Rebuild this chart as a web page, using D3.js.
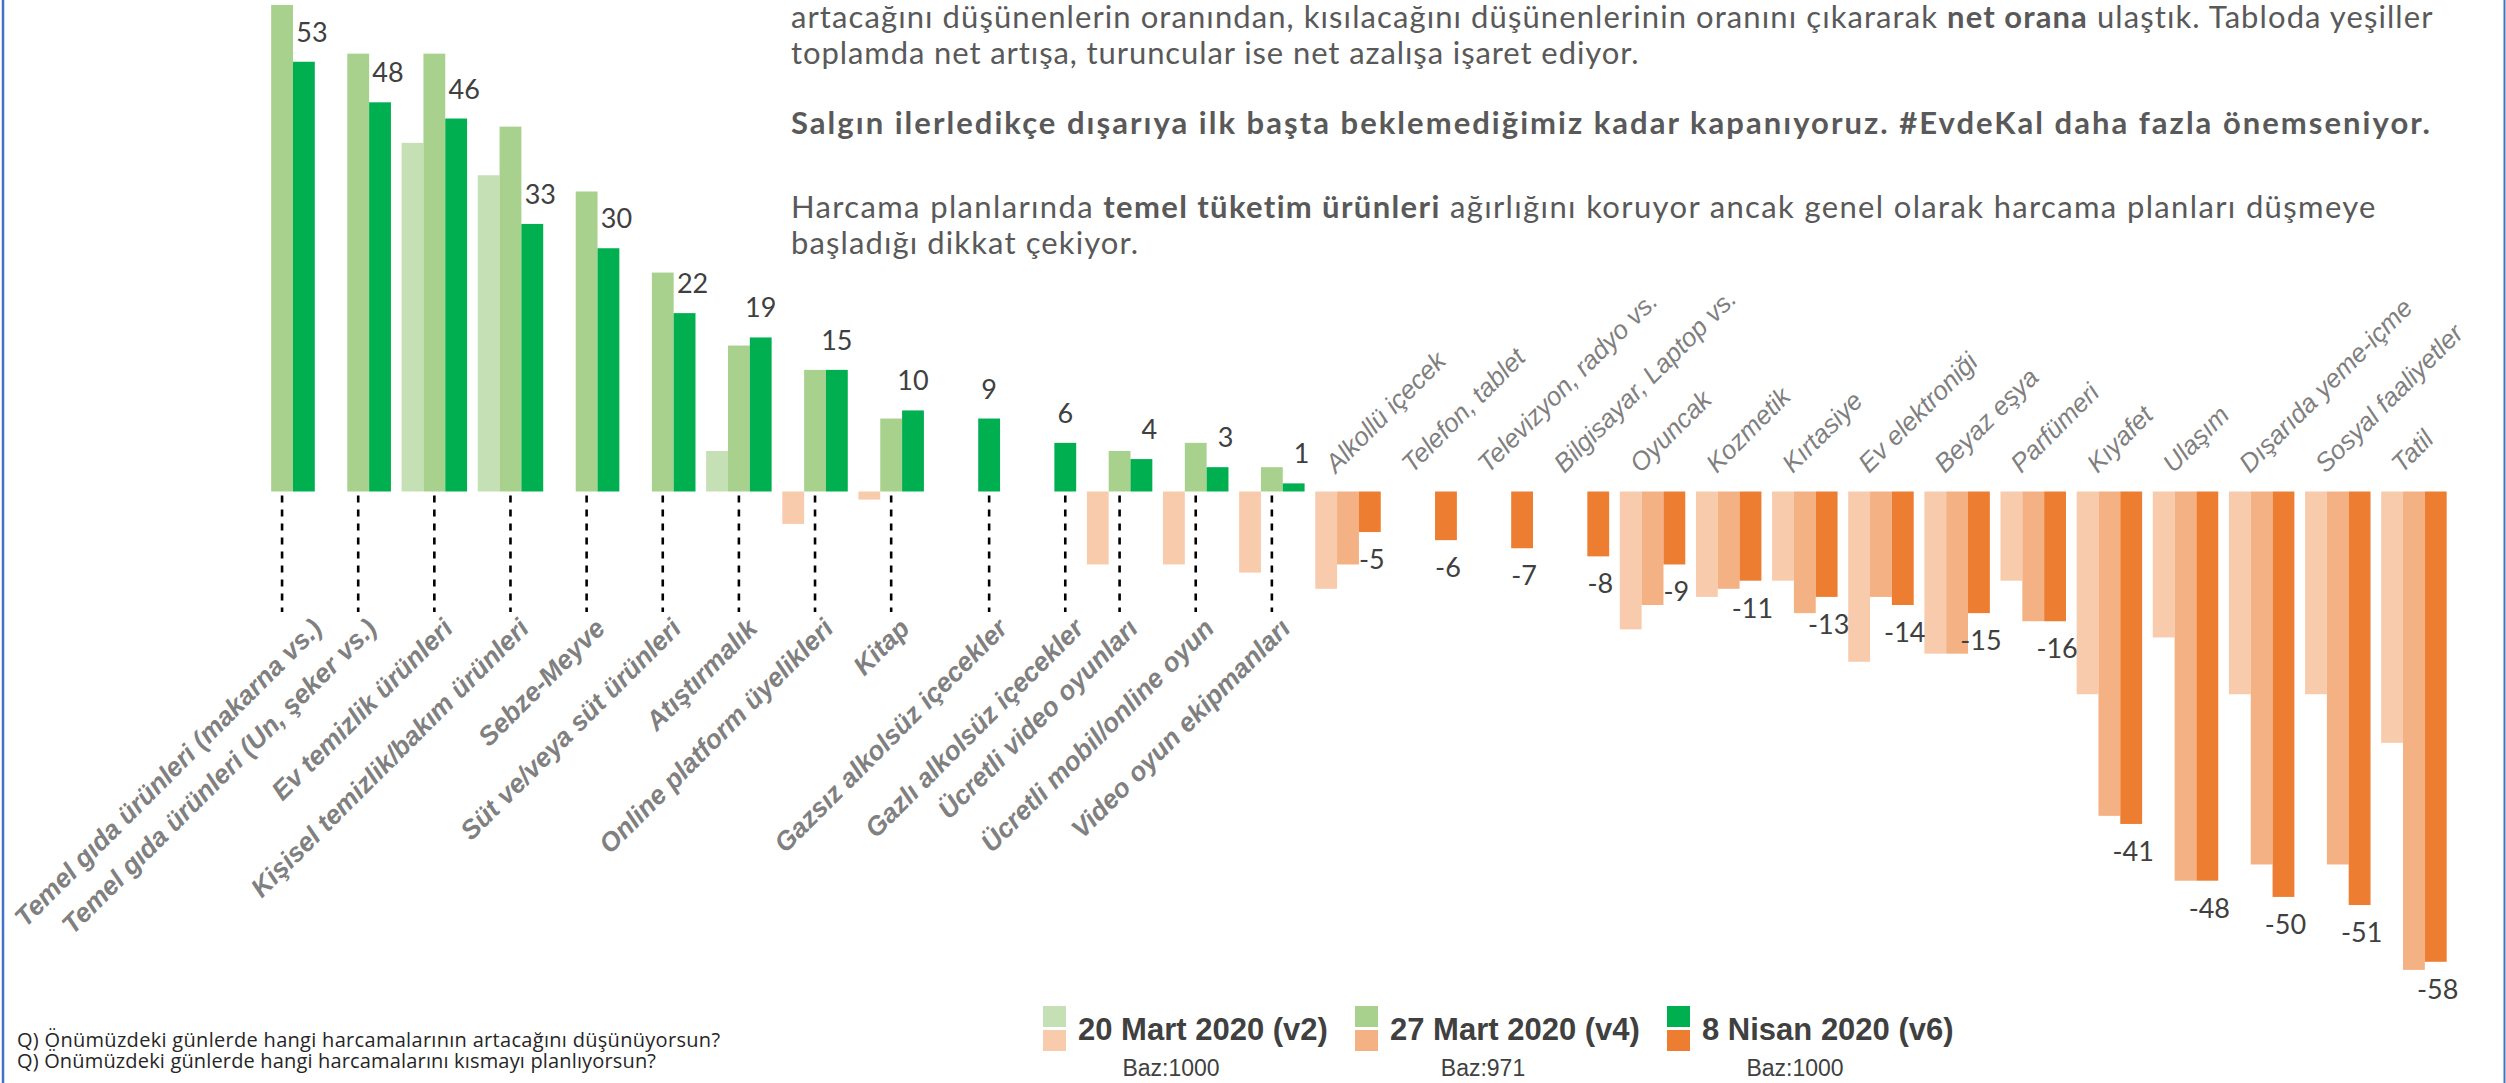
<!DOCTYPE html>
<html><head><meta charset="utf-8">
<script src="https://cdn.jsdelivr.net/npm/d3@7"></script>
<style>html,body{margin:0;padding:0;background:#fff;overflow:hidden}</style>
</head><body>
<svg id="chart" width="2506" height="1083" xmlns="http://www.w3.org/2000/svg"></svg>
<script>
// ---------- DATA ----------
const categories = [
  "Temel gıda ürünleri (makarna vs.)", "Temel gıda ürünleri (Un, şeker vs.)", "Ev temizlik ürünleri",
  "Kişisel temizlik/bakım ürünleri", "Sebze-Meyve", "Süt ve/veya süt ürünleri", "Atıştırmalık",
  "Online platform üyelikleri", "Kitap", "Gazsız alkolsüz içecekler", "Gazlı alkolsüz içecekler",
  "Ücretli video oyunları", "Ücretli mobil/online oyun", "Video oyun ekipmanları",
  "Alkollü içecek", "Telefon, tablet", "Televizyon, radyo vs.", "Bilgisayar, Laptop vs.",
  "Oyuncak", "Kozmetik", "Kırtasiye", "Ev elektroniği", "Beyaz eşya", "Parfümeri",
  "Kıyafet", "Ulaşım", "Dışarıda yeme-içme", "Sosyal faaliyetler", "Tatil"
];
const v2 = [null, null, 43, 39, null, null, 5, -4, -1, null, null, -9, -9, -10,
            -12, null, null, null, -17, -13, -11, -21, -20, -11, -25, -18, -25, -25, -31];
const v4 = [60, 54, 54, 45, 37, 27, 18, 15, 9, null, null, 5, 6, 3,
            -9, null, null, null, -14, -12, -15, -13, -20, -16, -40, -48, -46, -46, -59];
const v6 = [53, 48, 46, 33, 30, 22, 19, 15, 10, 9, 6, 4, 3, 1,
            -5, -6, -7, -8, -9, -11, -13, -14, -15, -16, -41, -48, -50, -51, -58];
const seriesKeys = ["v2", "v4", "v6"];
const legendLabels = ["20 Mart 2020 (v2)", "27 Mart 2020 (v4)", "8 Nisan 2020 (v6)"];
const bazLabels = ["Baz:1000", "Baz:971", "Baz:1000"];
const paragraphLines = [
  [["artacağını düşünenlerin oranından, kısılacağını düşünenlerinin oranını çıkararak ", false], ["net orana", true], [" ulaştık. Tabloda yeşiller", false]],
  [["toplamda net artışa, turuncular ise net azalışa işaret ediyor.", false]],
  [["Salgın ilerledikçe dışarıya ilk başta beklemediğimiz kadar kapanıyoruz. #EvdeKal daha fazla önemseniyor.", true]],
  [["Harcama planlarında ", false], ["temel tüketim ürünleri", true], [" ağırlığını koruyor ancak genel olarak harcama planları düşmeye", false]],
  [["başladığı dikkat çekiyor.", false]]
];
const questionLines = [
  "Q) Önümüzdeki günlerde hangi harcamalarının artacağını düşünüyorsun?",
  "Q) Önümüzdeki günlerde hangi harcamalarını kısmayı planlıyorsun?"
];

// ---------- LAYOUT ----------
const svg = d3.select("#chart");
const values = { v2, v4, v6 };
const posColor = { v2: "#c5e0b4", v4: "#a9d18e", v6: "#00b050" };
const negColor = { v2: "#f8cbad", v4: "#f4b183", v6: "#ed7d31" };

const x = d3.scaleBand().domain(categories).range([244, 2452]).paddingInner(0.14).paddingOuter(0.07);
const xs = d3.scaleBand().domain(seriesKeys).range([0, x.bandwidth()]);
const y = d3.scaleLinear().domain([-60, 60]).range([978, 5]);

function fit(sel, target) {
  const node = sel.node();
  const n = node.getNumberOfChars();
  const w = node.getComputedTextLength();
  sel.attr("letter-spacing", ((target - w) / Math.max(1, n - 1)).toFixed(3));
}

// frame lines (left / right)
svg.append("line").attr("x1", 3).attr("x2", 3).attr("y1", 0).attr("y2", 1083)
  .attr("stroke", "#4472c4").attr("stroke-width", 2.5);
svg.append("line").attr("x1", 2504.5).attr("x2", 2504.5).attr("y1", 0).attr("y2", 1083)
  .attr("stroke", "#4472c4").attr("stroke-width", 2);

// bars
const barData = [];
categories.forEach((c, i) => seriesKeys.forEach(k => {
  const v = values[k][i];
  if (v != null) barData.push({ c, k, v });
}));
svg.append("g").selectAll("rect").data(barData).join("rect")
  .attr("x", d => x(d.c) + xs(d.k))
  .attr("width", xs.bandwidth())
  .attr("y", d => y(Math.max(0, d.v)))
  .attr("height", d => Math.abs(y(d.v) - y(0)))
  .attr("fill", d => d.v >= 0 ? posColor[d.k] : negColor[d.k]);

const idx = categories.map((c, i) => i);
const posIdx = idx.filter(i => v6[i] > 0);
const negIdx = idx.filter(i => v6[i] < 0);
const tickX = i => x(categories[i]) + xs(v4[i] != null ? "v4" : "v6") + xs.bandwidth() / 2;
const v6X = i => x(categories[i]) + xs("v6") + xs.bandwidth() / 2;

// dashed leader lines
svg.append("g").selectAll("line").data(posIdx).join("line")
  .attr("x1", tickX).attr("x2", tickX)
  .attr("y1", y(0) + 4).attr("y2", 612)
  .attr("stroke", "#000").attr("stroke-width", 2.6).attr("stroke-dasharray", "7,7");

// bottom category labels (kept inside the left edge)
svg.append("g").selectAll("text").data(posIdx).join("text")
  .attr("text-anchor", "end")
  .attr("font-family", "'Liberation Sans', Arial, sans-serif")
  .attr("font-weight", "bold").attr("font-style", "italic")
  .attr("font-size", 26.5).attr("fill", "#808080")
  .text(i => categories[i])
  .each(function (i) {
    const len = this.getComputedTextLength();
    const bx = Math.max(tickX(i) + 20, 12 + 0.707 * (len + 19));
    d3.select(this).attr("transform", `translate(${bx},630) rotate(-45)`);
  });

// top category labels
svg.append("g").selectAll("text").data(negIdx).join("text")
  .attr("transform", i => `translate(${x(categories[i]) + x.bandwidth() / 2 - 12},474) rotate(-45)`)
  .attr("text-anchor", "start")
  .attr("font-family", "'Liberation Sans', Arial, sans-serif")
  .attr("font-style", "italic")
  .attr("font-size", 26).attr("fill", "#7f7f7f")
  .text(i => categories[i]);

// value labels
svg.append("g").selectAll("text").data(idx).join("text")
  .attr("x", i => v6X(i) + (v6[i] > 0 ? (v4[i] != null && v4[i] > v6[i] ? 8 : 0) : 2))
  .attr("y", i => v6[i] > 0 ? y(v6[i]) - 20 : y(v6[i]) + 37)
  .attr("text-anchor", "middle")
  .attr("font-family", "Lato, 'Open Sans', sans-serif")
  .attr("font-size", 27).attr("fill", "#404040")
  .text(i => v6[i]);

// paragraph
const paraBaselines = [28, 63.5, 134, 218, 253.5];
const paraEnds = [2433, 1639, 2430, 2376, 1138];
paragraphLines.forEach((parts, li) => {
  const t = svg.append("text").attr("x", 791).attr("y", paraBaselines[li])
    .attr("font-family", "Lato, 'Open Sans', sans-serif")
    .attr("font-size", 31).attr("fill", "#595959");
  parts.forEach(([s, b]) => t.append("tspan").attr("font-weight", b ? "bold" : "normal").text(s));
  fit(t, paraEnds[li] - 791);
});

// questions
const qBaselines = [1047, 1068];
const qEnds = [720, 656];
questionLines.forEach((q, i) => {
  const t = svg.append("text").attr("x", 17).attr("y", qBaselines[i])
    .attr("font-family", "'Open Sans', sans-serif")
    .attr("font-size", 20).attr("fill", "#262626").text(q);
  fit(t, qEnds[i] - 17);
});

// legend
const lg = svg.append("g").selectAll("g").data(seriesKeys).join("g")
  .attr("transform", (k, i) => `translate(${1043 + i * 312},0)`);
lg.append("rect").attr("x", 0).attr("y", 1006).attr("width", 23).attr("height", 21).attr("fill", k => posColor[k]);
lg.append("rect").attr("x", 0).attr("y", 1030).attr("width", 23).attr("height", 21).attr("fill", k => negColor[k]);
lg.append("text").attr("x", 35).attr("y", 1040)
  .attr("font-family", "'Liberation Sans', Arial, sans-serif").attr("font-weight", "bold")
  .attr("font-size", 31).attr("fill", "#404040")
  .text((k, i) => legendLabels[i]);
lg.append("text").attr("x", 128).attr("y", 1076).attr("text-anchor", "middle")
  .attr("font-family", "'Liberation Sans', Arial, sans-serif")
  .attr("font-size", 23).attr("fill", "#404040")
  .text((k, i) => bazLabels[i]);
</script>
</body></html>
